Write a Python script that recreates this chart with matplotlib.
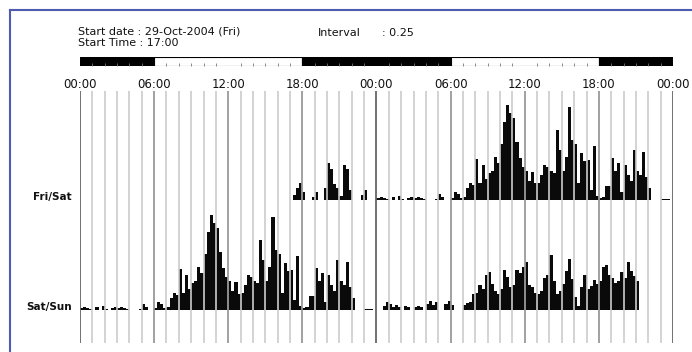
import matplotlib
matplotlib.use("Agg")
import matplotlib.pyplot as plt
from matplotlib.lines import Line2D
import numpy as np

# activity counts, 15 min bins (0.25 h), percent of max
INTERVAL = 0.25
FRI_START = 17.0
fri_activity = [0, 5, 12, 18, 8, 0, 0, 3, 8, 0,
                0, 12, 38, 32, 16, 12, 4, 36, 32, 10,
                0, 0, 0, 5, 10, 0, 0, 0]
sat_activity = [2, 3, 2, 1, 0, 3, 0, 4, 1, 0,
                2, 3, 2, 3, 2, 1, 0, 0, 0, 1,
                6, 3, 0, 0, 2, 8, 6, 2, 3, 12,
                18, 15, 42, 18, 36, 22, 28, 30, 44, 38,
                58, 80, 98, 90, 84, 60, 43, 34, 30, 20,
                29, 17, 18, 26, 36, 34, 30, 28, 72, 52,
                30, 44, 96, 62, 58, 18, 48, 40, 41, 10,
                56, 4, 2, 3, 14, 14, 43, 30, 38, 8,
                36, 26, 20, 52, 30, 26, 49, 24, 12, 0,
                0, 0, 1, 1, 1, 0]
sun_activity = [0, 0, 4, 8, 6, 3, 5, 3, 0, 4,
                3, 0, 3, 4, 3, 0, 6, 9, 5, 8,
                0, 0, 6, 9, 5, 0, 0, 0, 5, 7,
                8, 17, 18, 26, 22, 36, 39, 27, 20, 17,
                22, 41, 34, 24, 26, 41, 38, 44, 49, 26,
                24, 18, 16, 20, 33, 36, 57, 30, 17, 20,
                27, 40, 53, 32, 13, 4, 24, 36, 22, 25,
                31, 27, 30, 44, 46, 36, 33, 28, 30, 39,
                33, 49, 40, 35, 30, 0]

row_labels = ["Fri/Sat", "Sat/Sun"]
tick_hours = [0, 6, 12, 18, 24, 30, 36, 42, 48]
tick_labels = ["00:00", "06:00", "12:00", "18:00", "00:00",
               "06:00", "12:00", "18:00", "00:00"]
# light (white) / dark (black) phases over the 48 h
ld_starts = [0, 6, 18, 30, 42]
ld_ends = [6, 18, 30, 42, 48]
ld_dark = [True, False, True, False, True]

W, H = 692, 352
fig = plt.figure(figsize=(W / 100, H / 100), dpi=100)
fig.patch.set_facecolor("white")

def px(x0, y0, x1, y1):
    # figure rect from pixel box (top-left origin)
    return [x0 / W, 1 - y1 / H, (x1 - x0) / W, (y1 - y0) / H]

# blue frame (left and top only visible)
frame_col = "#4d5bb0"
fig.add_artist(Line2D([10 / W, 10 / W], [0, 1 - 10 / H], color=frame_col, lw=1.5))
fig.add_artist(Line2D([10 / W, 1], [1 - 10 / H, 1 - 10 / H], color=frame_col, lw=1.5))

hdr = dict(fontsize=8, va="center", color="#111111")
fig.text(78 / W, 1 - 31 / H, "Start date : 29-Oct-2004 (Fri)", **hdr)
fig.text(78 / W, 1 - 43 / H, "Start Time : 17:00", **hdr)
fig.text(318 / W, 1 - 33 / H, "Interval", **hdr)
fig.text(382 / W, 1 - 33 / H, ": 0.25", **hdr)

# light/dark bar
ld_ax = fig.add_axes(px(80, 57, 673, 66))
for s, e, dark in zip(ld_starts, ld_ends, ld_dark):
    ld_ax.barh(0.5, e - s, left=s, height=1, color="black" if dark else "white",
               edgecolor="black", linewidth=0.8)
ld_ax.set_xlim(0, 48)
ld_ax.set_ylim(0, 1)
ld_ax.set_yticks([])
ld_ax.set_xticks(tick_hours)
ld_ax.set_xticklabels(tick_labels, fontsize=8.5, color="#111111")
ld_ax.set_xticks(np.arange(0, 49, 1), minor=True)
ld_ax.tick_params(axis="x", which="major", length=0, pad=9)
ld_ax.tick_params(axis="x", which="minor", direction="in", length=2, width=0.6, color="#777777")
for sp in ld_ax.spines.values():
    sp.set_visible(False)

# actogram (double plotted)
ROW_STEP = 113.4
ax = fig.add_axes(px(80, 91, 673, 343))
ax.set_xlim(0, 48)
ax.set_ylim(-34, ROW_STEP + 112.3)
ax.axis("off")

def day_bars(values, start_hour, offset_h, base):
    t = start_hour + offset_h + INTERVAL * np.arange(len(values))
    v = np.array(values, dtype=float)
    ax.bar(t, v, width=INTERVAL, bottom=base, align="edge",
           color="#0a0a0a", linewidth=0, zorder=2)

# row 1: Fri + Sat
day_bars(fri_activity, FRI_START, 0, ROW_STEP)
day_bars(sat_activity, 0, 24, ROW_STEP)
# row 2: Sat + Sun
day_bars(sat_activity, 0, 0, 0)
day_bars(sun_activity, 0, 24, 0)

for h in range(49):
    if h % 24 == 0:
        c, lw = "#666666", 1.3
    elif h % 6 == 0:
        c, lw = "#9a9a9a", 1.3
    else:
        c, lw = "#cccccc", 1.2
    ax.vlines(h, -34, ROW_STEP + 112.3, colors=c, linewidth=lw, zorder=3)

for i, lab in enumerate(row_labels):
    base = ROW_STEP * (1 - i)
    ax.text(-0.65, base + 3.5, lab, ha="right", va="center", fontsize=7.5,
            fontweight="bold", color="#111111", clip_on=False)

fig.savefig("out.png", dpi=100, facecolor="white")
